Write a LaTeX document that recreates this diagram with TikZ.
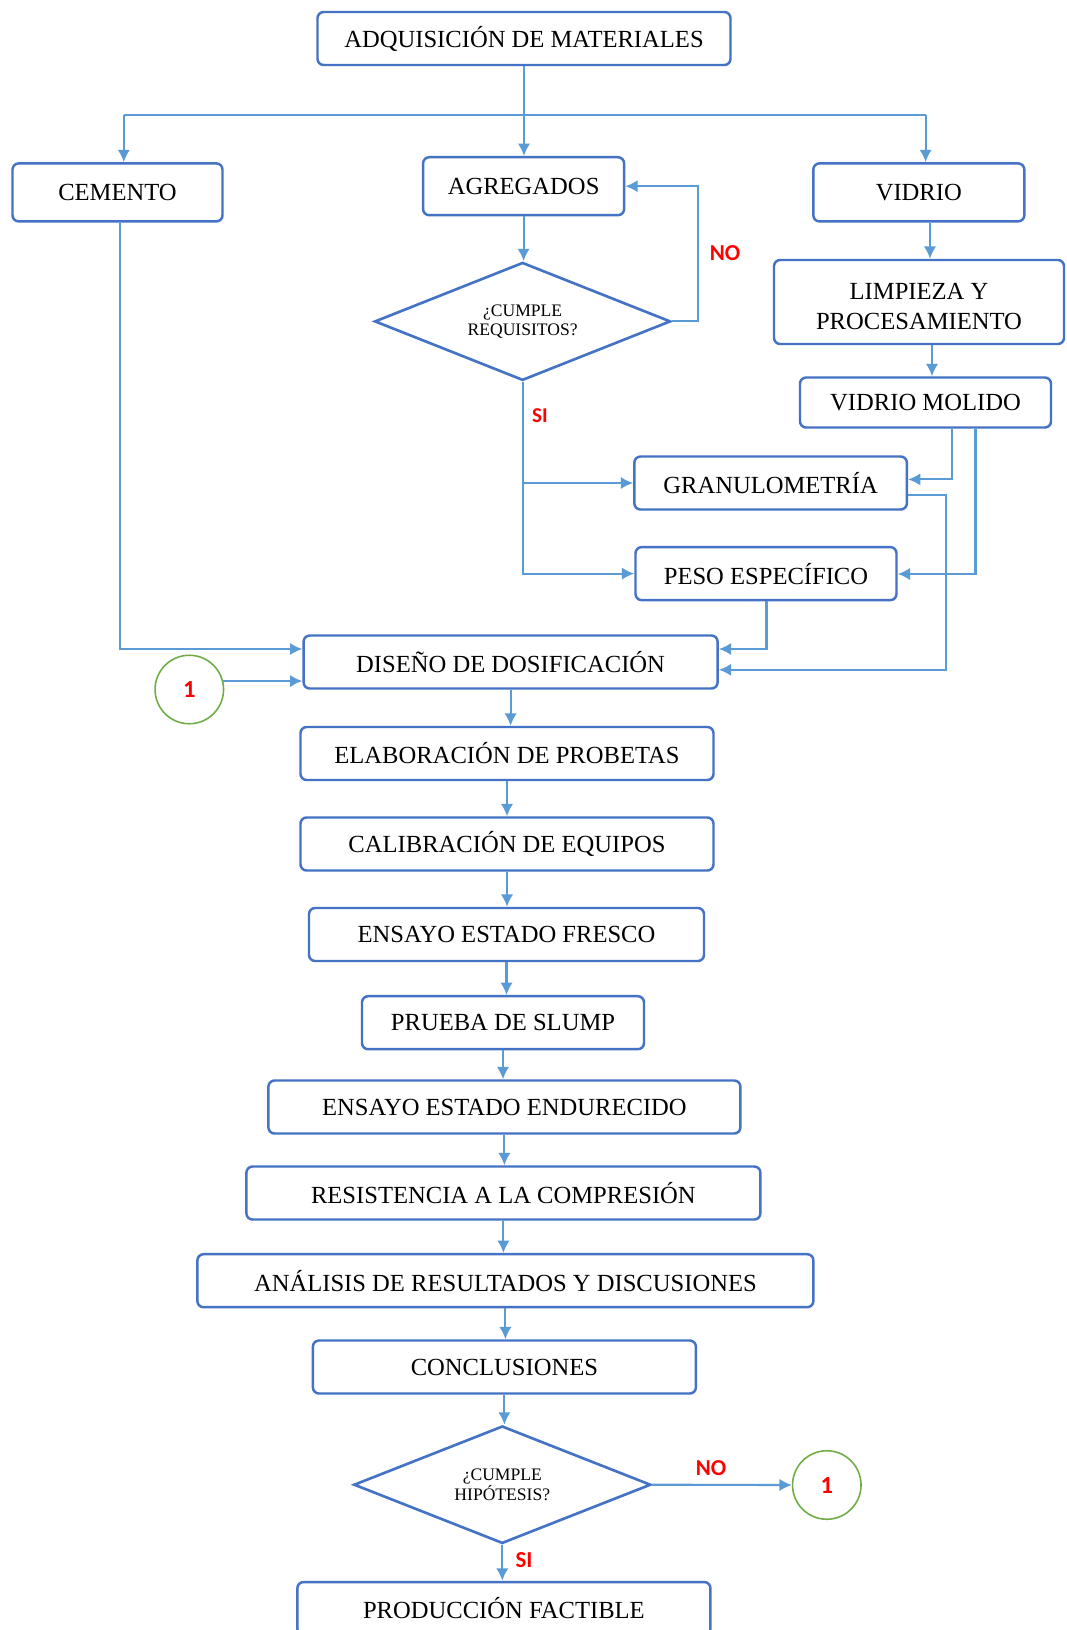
\documentclass[tikz,border=0pt]{standalone}
\usepackage{fontspec}
\setmainfont{Liberation Serif}
\newfontfamily\lblfont{Carlito}
\usetikzlibrary{arrows.meta,shapes.geometric,calc}
\definecolor{boxblue}{HTML}{4472C4}
\definecolor{arrblue}{HTML}{5B9BD5}
\definecolor{lblred}{HTML}{FF0000}
\definecolor{circgreen}{HTML}{70AD47}
\begin{document}
\begin{tikzpicture}[x=0.02cm,y=-0.02cm,
  sz/.style n args={2}{minimum width=#1*0.02cm,minimum height=#2*0.02cm},
  box/.style={draw=boxblue,line width=1.4pt,rounded corners=3.5pt,fill=white,inner sep=0pt,font=\fontsize{14}{17.5}\selectfont,align=center},
  dec/.style={diamond,aspect=3,draw=boxblue,line width=1.5pt,inner sep=0pt,fill=white,font=\fontsize{10}{10.5}\selectfont,align=center},
  arr/.style={draw=arrblue,line width=1.2pt,-{Latex[length=7pt,width=7pt]}},
  ln/.style={draw=arrblue,line width=1.2pt},
  lbl/.style={text=lblred,font=\lblfont\bfseries\fontsize{13}{13}\selectfont},
  lbls/.style={text=lblred,font=\lblfont\bfseries\fontsize{12}{12}\selectfont},
  conn/.style={circle,draw=circgreen,line width=0.9pt,minimum size=1.37cm,inner sep=0pt,text=lblred,font=\lblfont\bfseries\fontsize{14}{14}\selectfont}]
\useasboundingbox[fill=white] (0,0) rectangle (1066,1630);
% nodes
\node[box,sz={413}{53}] (adq) at (524,38.5) {ADQUISICIÓN DE MATERIALES};
\node[box,sz={210}{58}] (cem) at (117.5,192.4) {CEMENTO};
\node[box,sz={201}{58}] (agr) at (523.6,186.2) {AGREGADOS};
\node[box,sz={211}{58}] (vid) at (918.8,192.4) {VIDRIO};
\node[dec,sz={296}{118}] (req) at (522.6,321.4) {¿CUMPLE\\REQUISITOS?};
\node[box,sz={290}{84}] (limp) at (919,302) {\raisebox{0pt}[\dimexpr\height+5pt\relax]{\shortstack{LIMPIEZA Y\\[5pt]PROCESAMIENTO}}};
\node[box,sz={251}{50}] (vmol) at (925.5,402.5) {VIDRIO MOLIDO};
\node[box,sz={272.5}{53}] (gran) at (770.6,483) {GRANULOMETRÍA};
\node[box,sz={261}{53}] (peso) at (766,573.6) {PESO ESPECÍFICO};
\node[box,sz={414}{53}] (dis) at (510.6,662) {DISEÑO DE DOSIFICACIÓN};
\node[conn] (c1) at (189.3,689.5) {1};
\node[box,sz={413}{53}] (elab) at (507,753.5) {ELABORACIÓN DE PROBETAS};
\node[box,sz={413}{53}] (cal) at (507,844) {CALIBRACIÓN DE EQUIPOS};
\node[box,sz={395}{53}] (fres) at (506.5,934.5) {ENSAYO ESTADO FRESCO};
\node[box,sz={282}{53}] (slump) at (503,1022.7) {PRUEBA DE SLUMP};
\node[box,sz={472}{53}] (endu) at (504.4,1107) {ENSAYO ESTADO ENDURECIDO};
\node[box,sz={514}{53}] (res) at (503.4,1193) {RESISTENCIA A LA COMPRESIÓN};
\node[box,sz={616}{53}] (ana) at (505.4,1280.7) {ANÁLISIS DE RESULTADOS Y DISCUSIONES};
\node[box,sz={383}{53}] (conc) at (504.4,1367) {CONCLUSIONES};
\node[dec,sz={297}{117.5}] (hip) at (502.3,1484.7) {¿CUMPLE\\HIPÓTESIS?};
\node[conn] (c2) at (826.8,1485) {1};
\node[box,sz={413}{53}] (prod) at (503.9,1608.5) {PRODUCCIÓN FACTIBLE};
% connectors
\coordinate (bus) at (524,115.4);
\coordinate (busL) at (123.8,115.4);
\coordinate (busR) at (925.6,115.4);
\draw[arr] (adq.south) -- (bus |- agr.north);
\draw[ln] (busL) -- (busR);
\draw[arr] (busL) -- (busL |- cem.north);
\draw[arr] (busR) -- (busR |- vid.north);
\draw[arr] (agr.south) -- (agr.south |- req.north);
\draw[arr] (req.east) -- ++(26,0) |- (agr.east);
\node[lbl] (no1) at (725,252.7) {NO};
\draw[arr] (req.south) |- (gran.west);
\draw[arr] (req.south) |- (peso.west);
\node[lbls] (si1) at (540,416) {SI};
\coordinate (vl) at (930,0);
\draw[arr] (vl |- vid.south) -- (vl |- limp.north);
\coordinate (lv) at (932,0);
\draw[arr] (lv |- limp.south) -- (lv |- vmol.north);
\coordinate (v1) at (951.6,479.4);
\draw[arr] (v1 |- vmol.south) -- (v1) -- (v1 -| gran.east);
\coordinate (v2) at (975.5,574);
\draw[arr] (v2 |- vmol.south) -- (v2) -- (v2 -| peso.east);
\coordinate (g1) at (946.4,495);
\coordinate (g2) at (946.4,669.8);
\draw[arr] (g1 -| gran.east) -- (g1) -- (g2) -- (g2 -| dis.east);
\coordinate (p1) at (766.5,649);
\draw[arr] (p1 |- peso.south) -- (p1) -- (p1 -| dis.east);
\coordinate (cm1) at (119.6,649);
\draw[arr] (cm1 |- cem.south) -- (cm1) -- (cm1 -| dis.west);
\draw[arr] (c1.14) -- (c1.14 -| dis.west);
\foreach \a/\b in {dis/elab,elab/cal,cal/fres,fres/slump,slump/endu,endu/res,res/ana,ana/conc,conc/hip,hip/prod}
  \draw[arr] (\a.south) -- (\a.south |- \b.north);
\draw[arr] (hip.east) -- (c2.west);
\node[lbl] (no2) at (711,1468.5) {NO};
\node[lbl] (si2) at (524,1560) {SI};
\end{tikzpicture}
\end{document}
